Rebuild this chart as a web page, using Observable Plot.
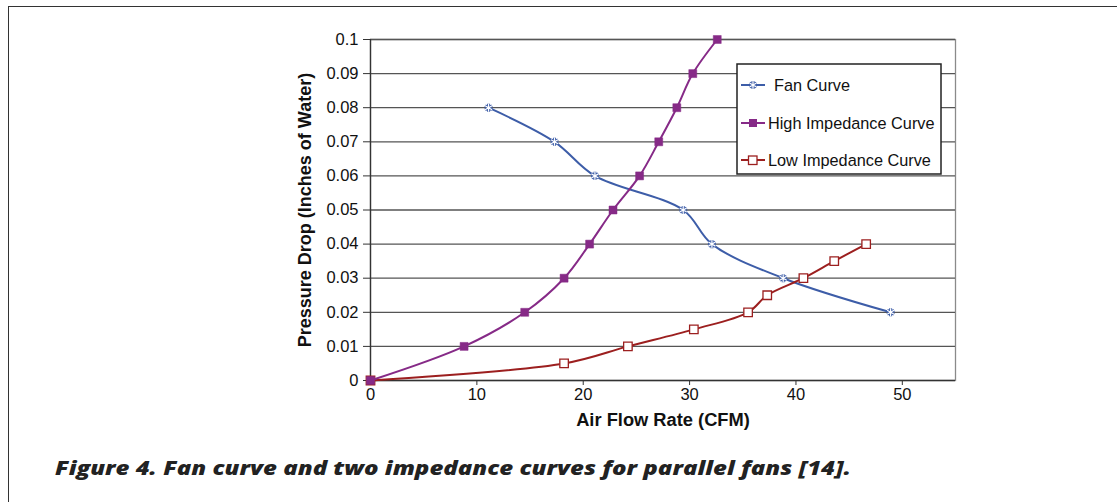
<!DOCTYPE html>
<html>
<head>
<meta charset="utf-8">
<script src="https://cdn.jsdelivr.net/npm/d3@7"></script>
<script src="https://cdn.jsdelivr.net/npm/@observablehq/plot@0.6"></script>
<style>
  html, body { margin: 0; padding: 0; background: #fff; }
  body { width: 1117px; height: 502px; position: relative; overflow: hidden; font-family: "Liberation Sans", Arial, sans-serif; }
  #frame { position: absolute; left: 8px; top: 6px; right: -4px; bottom: -4px; border-left: 1.5px solid #333; border-top: 1.5px solid #333; }
  #chart { position: absolute; left: 0; top: 0; }
  #legend { position: absolute; left: 736px; top: 63px; }
  #caption { position: absolute; left: 0; top: 440px; }
</style>
</head>
<body>
<div id="frame"></div>
<div id="chart"></div>
<div id="legend"></div>
<div id="caption"></div>
<script>
// ---- data ----
const xTicks = [0, 10, 20, 30, 40, 50];
const yTicks = [0, 0.01, 0.02, 0.03, 0.04, 0.05, 0.06, 0.07, 0.08, 0.09, 0.1];

const fanX = [11.1, 17.3, 21.1, 29.4, 32.1, 38.8, 48.9];
const fanY = [0.08, 0.07, 0.06, 0.05, 0.04, 0.03, 0.02];

const highX = [0, 8.8, 14.5, 18.2, 20.6, 22.8, 25.3, 27.1, 28.8, 30.3, 32.6];
const highY = [0, 0.01, 0.02, 0.03, 0.04, 0.05, 0.06, 0.07, 0.08, 0.09, 0.1];

const lowX = [0, 18.2, 24.2, 30.4, 35.5, 37.3, 40.7, 43.6, 46.6];
const lowY = [0, 0.005, 0.01, 0.015, 0.02, 0.025, 0.03, 0.035, 0.04];

const seriesNames = ["Fan Curve", "High Impedance Curve", "Low Impedance Curve"];
const xLabel = "Air Flow Rate (CFM)";
const yLabel = "Pressure Drop (Inches of Water)";
const captionText = "Figure 4. Fan curve and two impedance curves for parallel fans [14].";

// ---- styles ----
const fanColor = "#3D5DA8";
const highColor = "#862A87";
const lowColor = "#9C1F1F";
const font = "'Liberation Sans', Arial, sans-serif";

const toRows = (xs, ys) => xs.map((x, i) => ({x, y: ys[i]}));
const fan = toRows(fanX, fanY);
const high = toRows(highX, highY);
const low = toRows(lowX, lowY);

const chart = Plot.plot({
  width: 1117,
  height: 440,
  marginLeft: 370,
  marginRight: 162,
  marginTop: 39,
  marginBottom: 60,
  style: {fontFamily: font, fontSize: "16.5px", color: "#111", background: "transparent"},
  x: {domain: [0, 55]},
  y: {domain: [0, 0.1]},
  marks: [
    Plot.frame({stroke: "#8a8a8a", strokeWidth: 1.3}),
    Plot.ruleY(yTicks.filter(d => d > 0), {stroke: "#555", strokeWidth: 1.3}),
    Plot.axisX({ticks: xTicks, label: null, tickSize: 5, tickPadding: 3, fontSize: 16.5, stroke: "#333", fill: "#111"}),
    Plot.axisY({ticks: yTicks, label: null, tickSize: 7, tickPadding: 5, fontSize: 16.5, stroke: "#333", fill: "#111",
                tickFormat: d => d === 0 ? "0" : String(+d.toFixed(2))}),
    Plot.ruleX([0], {stroke: "#333", strokeWidth: 1.3}),
    Plot.ruleY([0], {stroke: "#333", strokeWidth: 1.3}),
    Plot.line(fan, {x: "x", y: "y", stroke: fanColor, strokeWidth: 2, curve: "catmull-rom"}),
    Plot.dot(fan, {x: "x", y: "y", symbol: "square", r: 3, fill: "#fff", stroke: "none"}),
    Plot.dot(fan, {x: "x", y: "y", symbol: "asterisk", r: 3.8, stroke: fanColor, strokeWidth: 3}),
    Plot.dot(fan, {x: "x", y: "y", symbol: "asterisk", r: 3.8, stroke: "#fff", strokeWidth: 1.2}),
    Plot.line(low, {x: "x", y: "y", stroke: lowColor, strokeWidth: 2, curve: "catmull-rom"}),
    Plot.dot(low, {x: "x", y: "y", symbol: "square", r: 4.8, fill: "#fff", stroke: lowColor, strokeWidth: 1.3}),
    Plot.line(high, {x: "x", y: "y", stroke: highColor, strokeWidth: 2, curve: "catmull-rom"}),
    Plot.dot(high, {x: "x", y: "y", symbol: "square", r: 4.5, fill: highColor, stroke: highColor, strokeWidth: 0.5}),
    Plot.text([xLabel], {frameAnchor: "bottom", dy: 45, fontSize: 18.3, fontWeight: "bold", fill: "#111", textAnchor: "middle"}),
    Plot.text([yLabel], {frameAnchor: "left", dx: -65, rotate: -90, fontSize: 18, fontWeight: "bold", fill: "#111", textAnchor: "middle"})
  ]
});
document.getElementById("chart").append(chart);

// ---- legend ----
const W = 205, H = 111;
const lg = d3.select("#legend").append("svg").attr("width", W + 2).attr("height", H + 2);
lg.append("rect").attr("x", 1).attr("y", 1).attr("width", W - 1).attr("height", H - 1)
  .attr("fill", "#fff").attr("stroke", "#222").attr("stroke-width", 1.5);
const legendItems = [
  {name: seriesNames[0], color: fanColor, kind: "star", dy: 22, tx: 38},
  {name: seriesNames[1], color: highColor, kind: "filled", dy: 60, tx: 32},
  {name: seriesNames[2], color: lowColor, kind: "hollow", dy: 97, tx: 32}
];
legendItems.forEach(it => {
  const g = lg.append("g").attr("transform", `translate(0,${it.dy})`);
  g.append("line").attr("x1", 5).attr("x2", 29).attr("y1", 0).attr("y2", 0).attr("stroke", it.color).attr("stroke-width", 2);
  if (it.kind === "star") {
    g.append("rect").attr("x", 14).attr("y", -3).attr("width", 6).attr("height", 6).attr("fill", "#fff");
    const d = d3.symbol(d3.symbolAsterisk, 45)();
    g.append("path").attr("transform", "translate(17,0)").attr("d", d).attr("stroke", it.color).attr("stroke-width", 3).attr("fill", "none");
    g.append("path").attr("transform", "translate(17,0)").attr("d", d).attr("stroke", "#fff").attr("stroke-width", 1.2).attr("fill", "none");
  } else if (it.kind === "filled") {
    g.append("rect").attr("x", 13).attr("y", -4).attr("width", 8).attr("height", 8).attr("fill", it.color);
  } else {
    g.append("rect").attr("x", 12.5).attr("y", -4).attr("width", 8.5).attr("height", 8.5).attr("fill", "#fff").attr("stroke", it.color).attr("stroke-width", 1.3);
  }
  g.append("text").attr("x", it.tx).attr("y", 5.5).text(it.name)
    .attr("font-family", font).attr("font-size", 16.3).attr("fill", "#111");
});

// ---- caption ----
const cs = d3.select("#caption").append("svg").attr("width", 1117).attr("height", 60);
cs.append("text").attr("x", 55).attr("y", 35).text(captionText)
  .attr("font-family", "'Open Sans', 'Liberation Sans', Arial, sans-serif")
  .attr("font-weight", 800).attr("font-style", "italic").attr("font-size", 19.5)
  .attr("fill", "#222").attr("textLength", 796).attr("lengthAdjust", "spacingAndGlyphs");
</script>
</body>
</html>
